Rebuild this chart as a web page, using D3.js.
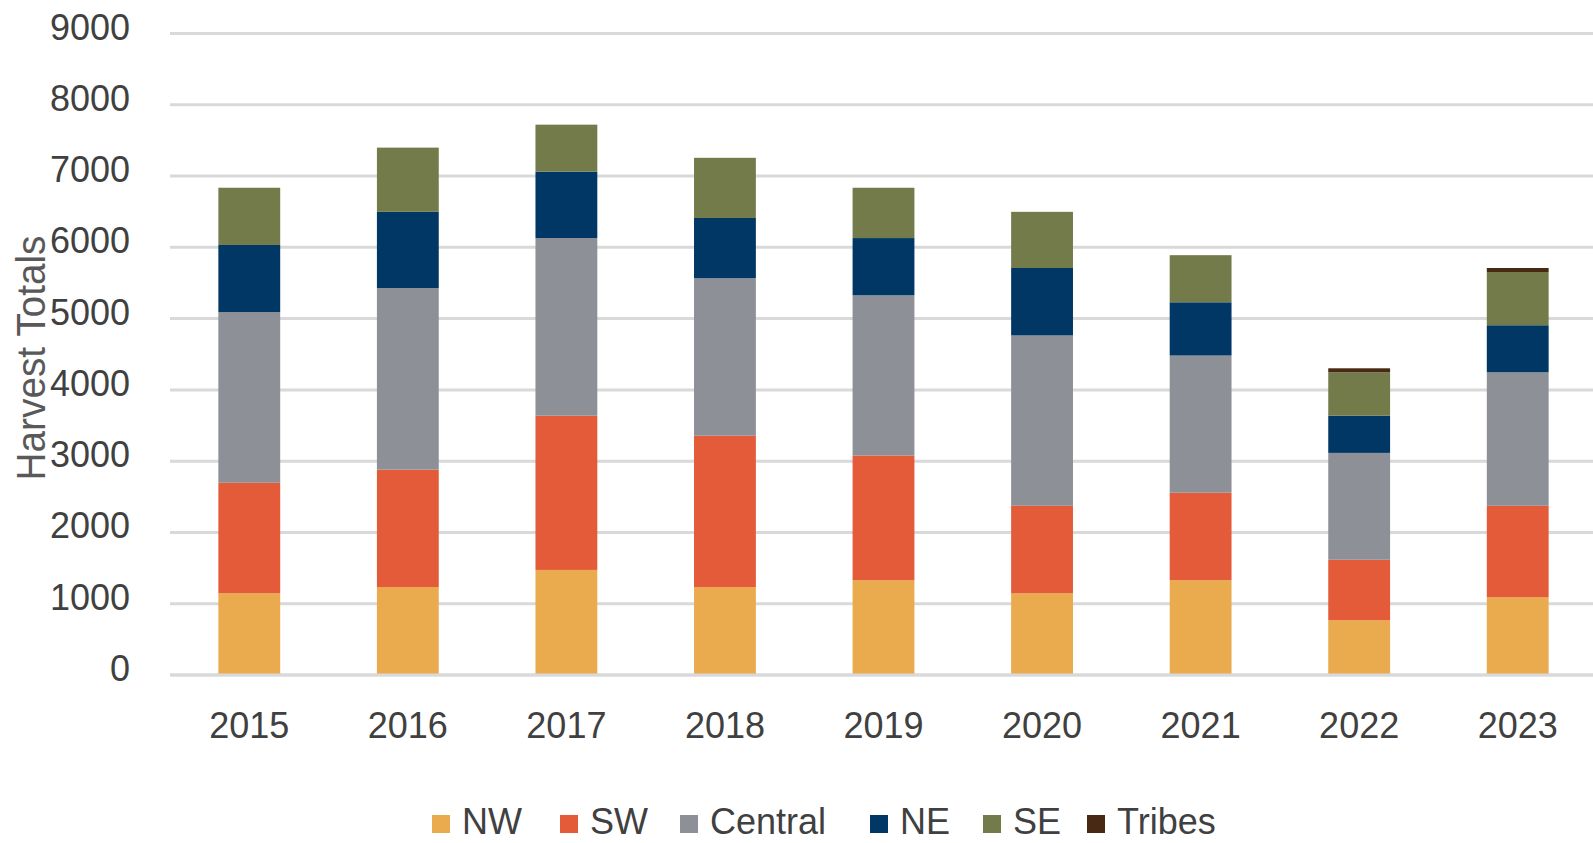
<!DOCTYPE html>
<html>
<head>
<meta charset="utf-8">
<script src="https://cdn.jsdelivr.net/npm/d3@7"></script>
<style>
  html, body { margin: 0; padding: 0; background: #fff; overflow: hidden; }
  svg { display: block; }
  text { font-family: "Liberation Sans", Arial, sans-serif; }
</style>
</head>
<body>
<svg id="chart" width="1593" height="843"></svg>
<script>
// ---- data ----
const years = ["2015", "2016", "2017", "2018", "2019", "2020", "2021", "2022", "2023"];
const seriesNames = ["NW", "SW", "Central", "NE", "SE", "Tribes"];
const NW      = [1146, 1233, 1474, 1233, 1330, 1146, 1330,  768, 1090];
const SW      = [1551, 1648, 2164, 2124, 1750, 1228, 1228,  849, 1284];
const Central = [2394, 2548, 2492, 2210, 2247, 2390, 1924, 1499, 1873];
const NE      = [ 942, 1069,  931,  845,  803,  946,  747,  522,  660];
const SE      = [ 803,  901,  660,  844,  706,  788,  661,  609,  747];
const Tribes  = [   0,    0,    0,    0,    0,    0,    0,   56,   56];
const yTicks  = [0, 1000, 2000, 3000, 4000, 5000, 6000, 7000, 8000, 9000];
const colors  = ["#EAAA4E", "#E35B39", "#8D9097", "#013764", "#737B4B", "#482914"];

// ---- build table ----
const seriesValues = [NW, SW, Central, NE, SE, Tribes];
const table = years.map((y, i) => {
  const row = { year: y };
  seriesNames.forEach((s, j) => row[s] = seriesValues[j][i]);
  return row;
});
const stacked = d3.stack().keys(seriesNames)(table);

const svg = d3.select("#chart");

const x = d3.scaleBand()
  .domain(years)
  .range([170, 1597])
  .paddingInner(0.61)
  .paddingOuter(0.305);

const y = d3.scaleLinear()
  .domain([0, 9000])
  .range([675, 33.5]);

const color = d3.scaleOrdinal().domain(seriesNames).range(colors);

// gridlines
svg.append("g")
  .selectAll("line")
  .data(yTicks)
  .join("line")
  .attr("x1", 170)
  .attr("x2", 1597)
  .attr("y1", d => y(d))
  .attr("y2", d => y(d))
  .attr("stroke", "#D9D9D9")
  .attr("stroke-width", 3);

// bars
svg.append("g")
  .selectAll("g")
  .data(stacked)
  .join("g")
  .attr("fill", d => color(d.key))
  .selectAll("rect")
  .data(d => d)
  .join("rect")
  .attr("x", d => x(d.data.year))
  .attr("width", x.bandwidth())
  .attr("y", d => y(d[1]))
  .attr("height", d => Math.max(0, y(d[0]) - y(d[1])));

// baseline on top
svg.append("line")
  .attr("x1", 170).attr("x2", 1597)
  .attr("y1", y(0)).attr("y2", y(0))
  .attr("stroke", "#D9D9D9").attr("stroke-width", 3);

// y axis labels
const yAxis = d3.axisLeft(y).tickValues(yTicks).tickSize(0).tickPadding(0).tickFormat(d3.format("d"));
const yg = svg.append("g").attr("transform", "translate(130,0)").call(yAxis);
yg.select(".domain").remove();
yg.selectAll("text")
  .attr("font-size", 36)
  .attr("fill", "#404040")
  .attr("font-family", "Liberation Sans, Arial, sans-serif")
  .attr("dy", "0.32em")
  .attr("y", -6);

// x axis labels
const xAxis = d3.axisBottom(x).tickSize(0).tickPadding(0);
const xg = svg.append("g").attr("transform", "translate(0,738)").call(xAxis);
xg.select(".domain").remove();
xg.selectAll("text")
  .attr("font-size", 36)
  .attr("fill", "#404040")
  .attr("font-family", "Liberation Sans, Arial, sans-serif")
  .attr("dy", 0)
  .attr("y", 0);

// y axis title
svg.append("text")
  .attr("transform", "translate(45,358) rotate(-90)")
  .attr("text-anchor", "middle")
  .attr("font-size", 40)
  .attr("fill", "#595959")
  .attr("textLength", 245)
  .attr("lengthAdjust", "spacingAndGlyphs")
  .text("Harvest Totals");

// legend
const legendX = [432, 560, 680, 870, 983, 1087];
const legend = svg.append("g")
  .selectAll("g")
  .data(seriesNames)
  .join("g")
  .attr("transform", (d, i) => `translate(${legendX[i]},0)`);
legend.append("rect")
  .attr("x", 0).attr("y", 815)
  .attr("width", 18).attr("height", 18)
  .attr("fill", d => color(d));
legend.append("text")
  .attr("x", 30).attr("y", 834)
  .attr("font-size", 36)
  .attr("fill", "#404040")
  .text(d => d);
</script>
</body>
</html>
